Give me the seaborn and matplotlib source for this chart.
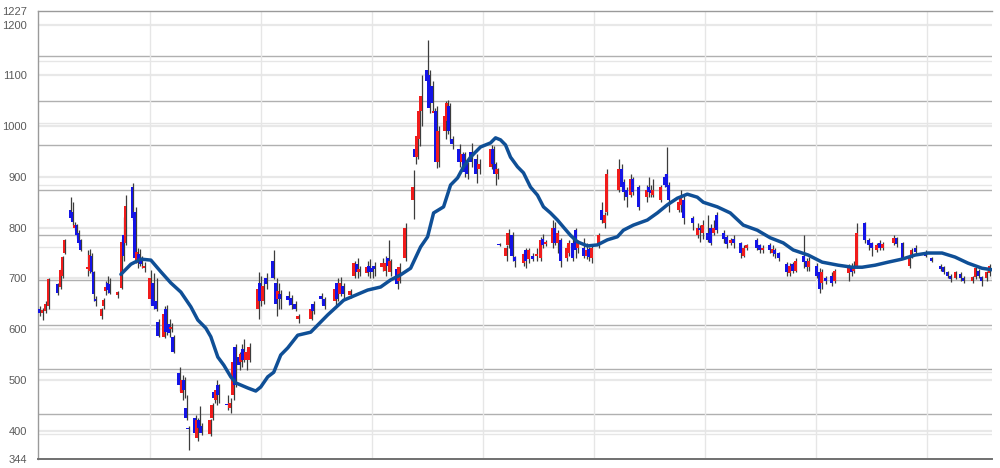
import numpy as np
import pandas as pd
import seaborn as sns
import matplotlib.pyplot as plt

# trading day index (session number) and OHLC
day = [0, 3, 6, 9, 18, 21, 23, 25, 31, 33,
       35, 37, 39, 41, 48, 50, 52, 54, 56, 62,
       64, 66, 68, 70, 78, 82, 84, 86, 93, 96,
       98, 100, 102, 105, 111, 114, 117, 119, 125, 127,
       130, 132, 134, 140, 143, 145, 147, 149, 156, 158,
       160, 162, 171, 173, 175, 177, 179, 188, 191, 194,
       196, 200, 202, 204, 207, 210, 219, 221, 224, 227,
       234, 237, 239, 241, 249, 252, 256, 259, 272, 274,
       282, 285, 296, 298, 301, 304, 311, 315, 318, 320,
       328, 330, 333, 335, 343, 346, 349, 351, 358, 360,
       366, 374, 376, 378, 380, 382, 388, 390, 393, 395,
       397, 399, 406, 408, 410, 413, 420, 423, 425, 428,
       432, 437, 440, 452, 454, 456, 458, 460, 467, 469,
       473, 476, 485, 487, 490, 494, 498, 502, 504, 507,
       514, 516, 519, 522, 528, 530, 534, 537, 539, 545,
       548, 550, 553, 560, 563, 566, 568, 580, 583, 585,
       588, 592, 594, 600, 608, 610, 612, 614, 622, 626,
       628, 630, 640, 642, 645, 654, 659, 661, 664, 669,
       672, 675, 678, 685, 688, 692, 695, 702, 705, 708,
       718, 721, 724, 731, 734, 736, 740, 748, 751, 754,
       757, 765, 768, 770, 778, 781, 783, 787, 793, 796,
       810, 813, 815, 818, 826, 830, 833, 838, 841, 844,
       855, 858, 864, 871, 873, 877, 887, 893, 902, 905,
       909, 912, 917, 922, 925, 934, 937, 940, 943, 948, 951]

open_ = [640, 632, 636, 645, 688, 683, 705, 750, 835, 830,
         800, 805, 790, 775, 718, 715, 745, 712, 660, 625,
         645, 675, 690, 688, 668, 682, 785, 770, 880, 830,
         730, 748, 740, 720, 660, 690, 655, 615, 585, 640,
         610, 600, 585, 513, 475, 500, 445, 405, 425, 385,
         420, 410, 393, 425, 477, 460, 490, 452, 445, 470,
         565, 545, 535, 560, 540, 540, 640, 690, 655, 700,
         735, 690, 660, 670, 665, 662, 650, 620, 620, 650,
         665, 660, 655, 690, 670, 685, 668, 705, 728, 712,
         710, 725, 720, 725, 722, 715, 740, 712, 718, 695,
         740, 855, 955, 940, 975, 1030, 1110, 1100, 1080, 1025,
         1030, 930, 990, 1010, 1040, 975, 955, 930, 945, 925,
         950, 935, 915, 920, 955, 925, 905, 768, 745, 765,
         785, 742, 730, 755, 738, 745, 745, 740, 778, 768,
         770, 800, 770, 775, 740, 750, 770, 795, 760, 760,
         745, 758, 740, 765, 835, 810, 830, 875, 915, 890,
         875, 865, 895, 880, 860, 880, 875, 865, 855, 900,
         905, 885, 835, 845, 855, 820, 785, 800, 790, 790,
         800, 790, 825, 790, 782, 770, 778, 770, 745, 760,
         775, 765, 755, 765, 750, 755, 750, 728, 710, 728,
         715, 745, 735, 722, 725, 712, 690, 700, 705, 695,
         710, 722, 715, 725, 810, 775, 770, 755, 770, 760,
         770, 780, 770, 725, 745, 760, 752, 740, 725, 722,
         712, 705, 700, 708, 700, 695, 702, 715, 702, 700, 710]

high = [645, 642, 655, 700, 690, 720, 745, 778, 860, 850,
        812, 808, 795, 778, 755, 758, 750, 715, 665, 642,
        662, 695, 705, 700, 676, 778, 821, 865, 888, 840,
        760, 758, 745, 732, 717, 710, 700, 620, 645, 648,
        620, 612, 588, 525, 510, 505, 470, 410, 430, 425,
        448, 415, 422, 455, 480, 500, 492, 470, 465, 540,
        570, 555, 570, 580, 560, 572, 712, 705, 695, 710,
        756, 700, 690, 678, 675, 668, 655, 630, 645, 655,
        672, 664, 690, 700, 702, 690, 680, 735, 740, 725,
        735, 738, 725, 732, 740, 745, 775, 738, 722, 730,
        810, 914, 968, 1000, 1040, 1100, 1170, 1110, 1090, 1035,
        1040, 1000, 1050, 1052, 1045, 980, 965, 950, 950, 930,
        967, 945, 935, 962, 960, 930, 918, 770, 765, 798,
        792, 745, 752, 760, 760, 750, 760, 782, 788, 775,
        815, 812, 795, 780, 765, 775, 780, 800, 775, 780,
        770, 762, 765, 790, 850, 830, 915, 935, 925, 895,
        880, 905, 900, 885, 885, 900, 885, 895, 885, 905,
        958, 890, 855, 875, 862, 822, 810, 805, 815, 825,
        808, 815, 830, 795, 785, 780, 785, 772, 765, 768,
        780, 768, 765, 770, 765, 760, 752, 732, 730, 733,
        740, 785, 740, 742, 730, 720, 718, 705, 712, 718,
        728, 730, 735, 810, 812, 780, 772, 770, 775, 772,
        785, 782, 772, 748, 760, 765, 755, 742, 728, 725,
        715, 708, 715, 712, 705, 705, 722, 718, 705, 715, 728]

low = [625, 618, 632, 640, 668, 680, 700, 748, 815, 805,
       795, 780, 765, 753, 705, 710, 705, 655, 645, 620,
       640, 668, 672, 670, 662, 680, 735, 765, 815, 730,
       720, 725, 720, 712, 650, 640, 635, 585, 582, 588,
       585, 595, 552, 478, 460, 465, 420, 362, 390, 380,
       398, 392, 390, 420, 455, 450, 455, 440, 435, 460,
       485, 520, 525, 535, 520, 535, 620, 645, 650, 680,
       698, 625, 640, 640, 648, 640, 635, 612, 618, 630,
       650, 640, 648, 655, 665, 660, 662, 700, 700, 705,
       705, 700, 700, 705, 715, 705, 720, 705, 680, 690,
       735, 818, 925, 935, 960, 1000, 1080, 1025, 1030, 1015,
       918, 920, 975, 985, 970, 955, 920, 915, 900, 895,
       920, 888, 905, 915, 915, 885, 895, 763, 735, 760,
       735, 722, 725, 720, 730, 735, 735, 735, 760, 763,
       760, 765, 750, 722, 735, 745, 735, 740, 750, 740,
       738, 735, 730, 760, 810, 800, 825, 870, 875, 855,
       840, 860, 865, 835, 850, 860, 860, 860, 850, 880,
       875, 830, 830, 830, 808, 795, 780, 772, 778, 772,
       765, 785, 790, 770, 760, 765, 760, 740, 742, 755,
       755, 750, 750, 750, 745, 740, 735, 705, 705, 710,
       712, 720, 715, 715, 700, 672, 680, 688, 685, 690,
       695, 705, 710, 720, 770, 755, 745, 752, 755, 755,
       765, 762, 738, 720, 740, 748, 742, 732, 715, 708,
       700, 692, 698, 695, 690, 690, 698, 700, 685, 695, 705]

close = [632, 638, 650, 698, 672, 717, 742, 776, 820, 812,
         806, 785, 770, 756, 722, 746, 712, 670, 656, 640,
         657, 683, 678, 672, 673, 772, 745, 842, 820, 740,
         752, 735, 728, 725, 700, 645, 640, 586, 630, 595,
         592, 605, 555, 490, 500, 480, 425, 403, 395, 420,
         405, 395, 420, 450, 465, 480, 470, 450, 455, 535,
         490, 530, 550, 540, 555, 565, 680, 655, 685, 688,
         700, 650, 675, 660, 658, 648, 640, 626, 640, 635,
         660, 645, 680, 660, 690, 670, 675, 730, 712, 718,
         722, 712, 712, 718, 730, 730, 725, 735, 688, 722,
         800, 880, 940, 980, 1030, 1060, 1090, 1035, 1045, 1030,
         930, 990, 1020, 1045, 990, 965, 930, 945, 910, 905,
         930, 905, 925, 955, 925, 905, 915, 765, 760, 790,
         745, 735, 748, 735, 755, 738, 748, 775, 765, 772,
         800, 770, 790, 735, 760, 770, 740, 755, 772, 745,
         755, 742, 760, 785, 815, 825, 905, 915, 880, 870,
         860, 895, 870, 840, 875, 870, 868, 875, 880, 885,
         880, 855, 850, 860, 820, 810, 800, 795, 805, 775,
         770, 800, 795, 778, 768, 775, 770, 750, 760, 765,
         760, 755, 760, 755, 758, 748, 740, 712, 725, 715,
         735, 732, 722, 735, 705, 680, 712, 695, 690, 715,
         720, 712, 725, 790, 775, 765, 760, 765, 760, 768,
         780, 768, 740, 745, 755, 752, 745, 735, 718, 712,
         705, 698, 712, 700, 695, 702, 720, 705, 695, 712, 725]

# moving average line, read at sample sessions
ma_day = [82, 92, 102, 112, 122, 132, 142, 152, 159, 167,
          172, 179, 185, 192, 197, 209, 217, 222, 229, 235,
          242, 249, 259, 272, 289, 305, 329, 342, 352, 362,
          372, 382, 389, 395, 405, 412, 419, 425, 432, 442,
          452, 457, 462, 467, 472, 479, 485, 492, 499, 505,
          512, 519, 525, 532, 539, 549, 559, 569, 579, 585,
          595, 609, 619, 629, 639, 649, 659, 665, 679, 692,
          705, 719, 732, 745, 755, 770, 784, 800, 814, 824,
          837, 850, 864, 877, 890, 904, 917, 930, 944, 954]
ma_val = [708, 728, 738, 736, 713, 691, 673, 644, 618, 602,
          585, 545, 529, 506, 494, 484, 478, 486, 506, 515,
          549, 563, 588, 594, 628, 657, 677, 683, 697, 707,
          720, 762, 782, 829, 841, 884, 898, 920, 939, 959,
          967, 977, 973, 963, 939, 920, 908, 880, 864, 841,
          829, 815, 801, 785, 772, 764, 766, 776, 782, 795,
          805, 815, 829, 845, 858, 866, 860, 850, 841, 829,
          805, 795, 780, 770, 756, 746, 732, 726, 722, 722,
          726, 732, 738, 746, 750, 750, 742, 730, 720, 717]

y_ticks = [344, 400, 500, 600, 700, 800, 900, 1000, 1100, 1200, 1227]
guide_levels = [1139, 1050, 962, 874, 785, 697, 609, 521, 432]
faint_levels = [1129, 1006, 885, 762, 639, 516, 393]
x_grid = [0, 111, 222, 333, 444, 556, 667, 778, 889]

sns.set_theme(style='white')
plt.rcParams['font.family'] = ['Liberation Sans', 'DejaVu Sans']

df = pd.DataFrame({'day': day, 'open': open_, 'high': high, 'low': low, 'close': close})
df['bottom'] = df[['open', 'close']].min(axis=1)
df['body'] = (df['close'] - df['open']).abs().clip(lower=3)
df['color'] = np.where(df['close'] >= df['open'], '#f01c1c', '#1414e6')

fig = plt.figure(figsize=(10, 4.68), dpi=100)
ax = fig.add_axes([0.038, 0.0192, 0.954, 0.9573])

# horizontal lines
for v in range(400, 1201, 100):
    ax.axhline(v, color='#e8e8e8', lw=1.6, zorder=0)
for v in faint_levels:
    ax.axhline(v, color='#e6e6e6', lw=1.0, zorder=0)
for v in guide_levels:
    ax.axhline(v, color='#b0b0b0', lw=1.0, zorder=0)
for v in x_grid[1:]:
    ax.axvline(v, color='#e6e6e6', lw=1.0, zorder=0)

# candles
ax.vlines(df['day'] + 1.0, df['low'], df['high'], color='#3c3c3c', lw=0.9, zorder=2)
ax.bar(df['day'], df['body'], bottom=df['bottom'], width=2.8, color=df['color'],
       linewidth=0, zorder=3)

sns.lineplot(x=ma_day, y=ma_val, ax=ax, color='#0f4f96', lw=2.5, zorder=4,
             solid_capstyle='round', solid_joinstyle='round')

ax.set_xlim(-1, 954)
ax.set_ylim(344, 1227)
ax.set_yticks(y_ticks)
ax.set_yticklabels([str(v) for v in y_ticks])
ax.set_xticks(x_grid)
ax.set_xticklabels([])
ax.tick_params(axis='y', length=0, pad=8, labelsize=8, labelcolor='#5a5a5a')
ax.tick_params(axis='x', length=9, width=1, color='#d0d0d0', direction='out')
ax.set_xlabel('')
ax.set_ylabel('')

ax.spines['right'].set_visible(False)
ax.spines['top'].set_color('#9a9a9a')
ax.spines['top'].set_linewidth(1.0)
ax.spines['left'].set_color('#9a9a9a')
ax.spines['left'].set_linewidth(1.0)
ax.spines['bottom'].set_color('#707070')
ax.spines['bottom'].set_linewidth(1.4)

fig.savefig('out.png', dpi=100)
